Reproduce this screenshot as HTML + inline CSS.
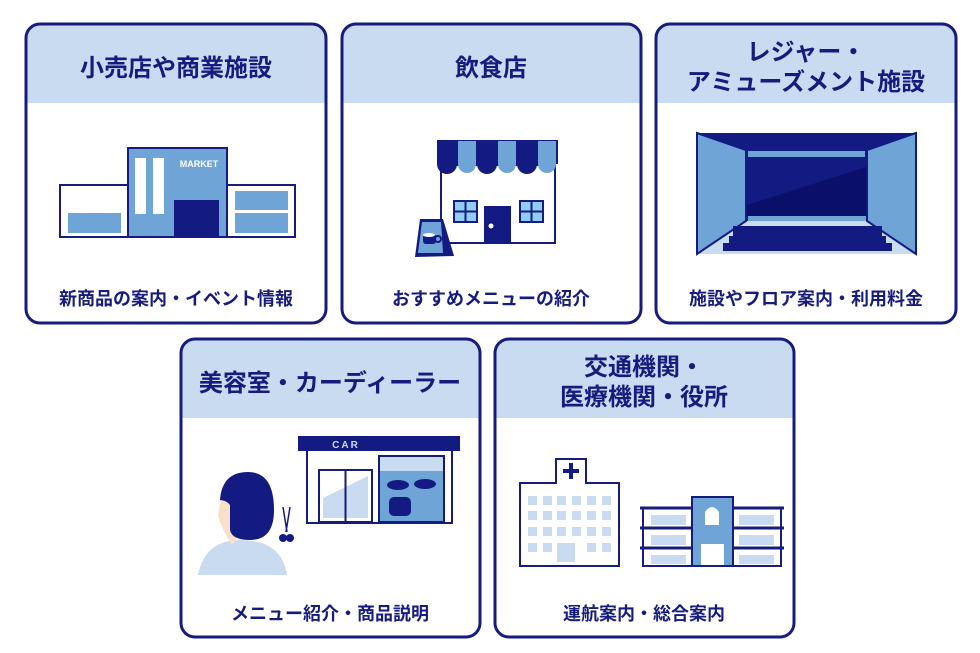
<!DOCTYPE html>
<html><head><meta charset="utf-8"><style>
html,body{margin:0;padding:0;background:#fff;width:980px;height:653px;overflow:hidden}
svg text{font-family:"Liberation Sans","Noto Sans CJK JP",sans-serif;font-weight:bold;fill:#151c7d;text-anchor:middle}
</style></head><body>
<svg width="980" height="653" viewBox="0 0 980 653" xmlns="http://www.w3.org/2000/svg">
<defs>
<clipPath id="c1"><rect x="26" y="24" width="300" height="299" rx="14"/></clipPath>
<clipPath id="c2"><rect x="342" y="24" width="299" height="299" rx="14"/></clipPath>
<clipPath id="c3"><rect x="656" y="24" width="300" height="299" rx="14"/></clipPath>
<clipPath id="c4"><rect x="181" y="339" width="299" height="298" rx="14"/></clipPath>
<clipPath id="c5"><rect x="495" y="339" width="299" height="298" rx="14"/></clipPath>
</defs>
<g fill="#c9dbf1">
<rect x="26" y="24" width="300" height="79" clip-path="url(#c1)"/>
<rect x="342" y="24" width="299" height="79" clip-path="url(#c2)"/>
<rect x="656" y="24" width="300" height="79" clip-path="url(#c3)"/>
<rect x="181" y="339" width="299" height="79" clip-path="url(#c4)"/>
<rect x="495" y="339" width="299" height="79" clip-path="url(#c5)"/>
</g>
<g fill="none" stroke="#151c7d" stroke-width="3">
<rect x="26" y="24" width="300" height="299" rx="14"/>
<rect x="342" y="24" width="299" height="299" rx="14"/>
<rect x="656" y="24" width="300" height="299" rx="14"/>
<rect x="181" y="339" width="299" height="298" rx="14"/>
<rect x="495" y="339" width="299" height="298" rx="14"/>
</g>
<g font-size="24">
<text x="176" y="76">小売店や商業施設</text>
<text x="491" y="76">飲食店</text>
<text x="806" y="60">レジャー・</text>
<text x="806" y="90">アミューズメント施設</text>
<text x="330" y="391">美容室・カーディーラー</text>
<text x="644" y="375">交通機関・</text>
<text x="644" y="405">医療機関・役所</text>
</g>
<g font-size="18">
<text x="176" y="305">新商品の案内・イベント情報</text>
<text x="491" y="305">おすすめメニューの紹介</text>
<text x="806" y="305">施設やフロア案内・利用料金</text>
<text x="330" y="620">メニュー紹介・商品説明</text>
<text x="644" y="620">運航案内・総合案内</text>
</g>
<!-- market -->
<g stroke="#151c7d" stroke-width="2">
<rect x="60" y="185" width="68" height="52" fill="#fff"/>
<rect x="227" y="185" width="68" height="52" fill="#fff"/>
<rect x="128" y="148" width="99" height="89" fill="#6fa4d6"/>
</g>
<rect x="68" y="213" width="53" height="20" fill="#6fa4d6"/>
<rect x="235" y="191" width="53" height="19" fill="#6fa4d6"/>
<rect x="235" y="213" width="53" height="20" fill="#6fa4d6"/>
<rect x="135" y="158" width="11" height="56" fill="#fff"/>
<rect x="153" y="158" width="11" height="56" fill="#fff"/>
<rect x="174" y="200" width="45" height="37" fill="#131a82"/>
<text x="199" y="167" font-size="9" style="fill:#fff">MARKET</text>
<!-- shop -->
<rect x="441" y="165" width="114" height="78" fill="#fff" stroke="#151c7d" stroke-width="2"/>
<rect x="437" y="140" width="121" height="24" fill="#131a82"/>
<g fill="#131a82"><circle cx="447" cy="164" r="10"/><circle cx="487" cy="164" r="10"/><circle cx="527" cy="164" r="10"/></g>
<g fill="#6fa4d6"><rect x="458" y="141" width="18" height="23"/><circle cx="467" cy="164" r="9"/><rect x="498" y="141" width="18" height="23"/><circle cx="507" cy="164" r="9"/><rect x="538" y="141" width="18" height="23"/><circle cx="547" cy="164" r="9"/></g>
<g fill="#90ccf5" stroke="#151c7d" stroke-width="2"><rect x="454" y="201" width="23" height="21"/><rect x="520" y="201" width="23" height="21"/></g>
<g stroke="#151c7d" stroke-width="2"><line x1="465.5" y1="201" x2="465.5" y2="222"/><line x1="454" y1="211.5" x2="477" y2="211.5"/><line x1="531.5" y1="201" x2="531.5" y2="222"/><line x1="520" y1="211.5" x2="543" y2="211.5"/></g>
<rect x="484" y="206" width="27" height="37" fill="#131a82"/>
<circle cx="491" cy="226" r="2.5" fill="#fff"/>
<polygon points="420,219 443,219 454,256 415,257" fill="#131a82"/>
<polygon points="422,222 441,222 443,253 418,253" fill="#6fa4d6"/>
<rect x="423" y="234" width="13" height="10" rx="3" fill="#131a82"/>
<ellipse cx="429" cy="235" rx="6" ry="2" fill="#fff"/>
<circle cx="438" cy="239" r="3" fill="none" stroke="#131a82" stroke-width="2"/>
<!-- theater -->
<rect x="697" y="133" width="219" height="121" fill="#c9dbf1"/>
<polygon points="697,133 916,133 867,150 746,150" fill="#131a82"/>
<rect x="746" y="150" width="121" height="71" fill="#131a82"/>
<rect x="748" y="151" width="117" height="6" fill="#6fa4d6"/>
<polygon points="747,205 866,167 866,216 747,216" fill="#0a0f6a"/>
<rect x="748" y="216" width="118" height="5" fill="#6fa4d6"/>
<polygon points="697,133 746,150 746,221 697,254" fill="#6fa4d6" stroke="#131a82" stroke-width="2"/>
<polygon points="916,133 867,150 867,221 916,254" fill="#6fa4d6" stroke="#131a82" stroke-width="2"/>
<rect x="733" y="226" width="149" height="12" fill="#131a82"/>
<rect x="729" y="236" width="157" height="8" fill="#131a82"/>
<rect x="723" y="243" width="169" height="8" fill="#131a82"/>
<!-- car dealer -->
<rect x="307" y="450" width="145" height="73" fill="#fff" stroke="#151c7d" stroke-width="2"/>
<rect x="298" y="436" width="162" height="15" fill="#131a82"/>
<text x="346" y="448" font-size="10" style="fill:#c9dbf1;letter-spacing:2px">CAR</text>
<rect x="319" y="470" width="53" height="52" fill="#fff" stroke="#151c7d" stroke-width="2"/>
<polygon points="323,498 368,476 368,518 323,518" fill="#c9dbf1"/>
<line x1="345.5" y1="470" x2="345.5" y2="522" stroke="#151c7d" stroke-width="2"/>
<rect x="379" y="456" width="65" height="66" fill="#6fa4d6" stroke="#151c7d" stroke-width="2"/>
<rect x="380" y="457" width="63" height="14" fill="#c9dbf1"/>
<g fill="#131a82"><ellipse cx="398" cy="485" rx="11" ry="5"/><ellipse cx="425" cy="484" rx="11" ry="5"/><rect x="389" y="497" width="22" height="19" rx="5"/></g>
<!-- person -->
<path d="M198,575 Q205,540 240,540 Q282,540 287,575 Z" fill="#c9dbf1"/>
<path d="M222,490 Q226,480 232,490 L236,540 L232,545 Q222,530 218,515 Z" fill="#fbe0c8"/>
<path d="M220,500 Q222,472 248,472 Q274,472 274,510 Q274,540 250,540 Q232,540 230,530 L230,505 Q226,500 220,500 Z" fill="#131a82"/>
<g fill="none" stroke="#131a82" stroke-width="1.5"><path d="M283,507 L287,532 M290,507 L286,532"/></g>
<circle cx="283" cy="538" r="4" fill="#131a82"/><circle cx="290" cy="538" r="4" fill="#131a82"/>
<!-- hospital -->
<g stroke="#151c7d" stroke-width="2" fill="#fff">
<rect x="556" y="459" width="30" height="25"/>
<rect x="520" y="483" width="99" height="83"/>
</g>
<rect x="557" y="482" width="28" height="3" fill="#fff"/>
<rect x="569" y="463" width="4" height="16" fill="#131a82"/><rect x="563" y="469" width="16" height="4" fill="#131a82"/>
<g fill="#c9dbf1">
<rect x="528" y="496" width="9" height="9"/><rect x="543" y="496" width="9" height="9"/><rect x="557" y="496" width="9" height="9"/><rect x="572" y="496" width="9" height="9"/><rect x="587" y="496" width="9" height="9"/><rect x="602" y="496" width="9" height="9"/>
<rect x="528" y="511" width="9" height="9"/><rect x="543" y="511" width="9" height="9"/><rect x="557" y="511" width="9" height="9"/><rect x="572" y="511" width="9" height="9"/><rect x="587" y="511" width="9" height="9"/><rect x="602" y="511" width="9" height="9"/>
<rect x="528" y="527" width="9" height="9"/><rect x="543" y="527" width="9" height="9"/><rect x="557" y="527" width="9" height="9"/><rect x="572" y="527" width="9" height="9"/><rect x="587" y="527" width="9" height="9"/><rect x="602" y="527" width="9" height="9"/>
<rect x="528" y="543" width="9" height="9"/><rect x="543" y="543" width="9" height="9"/><rect x="557" y="543" width="18" height="19"/><rect x="587" y="543" width="9" height="9"/><rect x="602" y="543" width="9" height="9"/>
</g>
<!-- school -->
<rect x="643" y="508" width="138" height="58" fill="#fff" stroke="#151c7d" stroke-width="2"/>
<g fill="#c9dbf1"><rect x="651" y="515" width="35" height="10"/><rect x="651" y="535" width="35" height="10"/><rect x="651" y="555" width="35" height="9"/><rect x="739" y="515" width="35" height="10"/><rect x="739" y="535" width="35" height="10"/><rect x="739" y="555" width="35" height="9"/></g>
<g stroke="#151c7d" stroke-width="3"><line x1="640" y1="508" x2="784" y2="508"/><line x1="640" y1="528" x2="784" y2="528"/><line x1="640" y1="548" x2="784" y2="548"/></g>
<rect x="692" y="497" width="41" height="69" fill="#6fa4d6" stroke="#151c7d" stroke-width="2"/>
<path d="M705,525 L705,512 Q712,502 719,512 L719,525 Z" fill="#fff"/>
<rect x="701" y="544" width="23" height="21" fill="#fff"/>
</svg>
</body></html>
